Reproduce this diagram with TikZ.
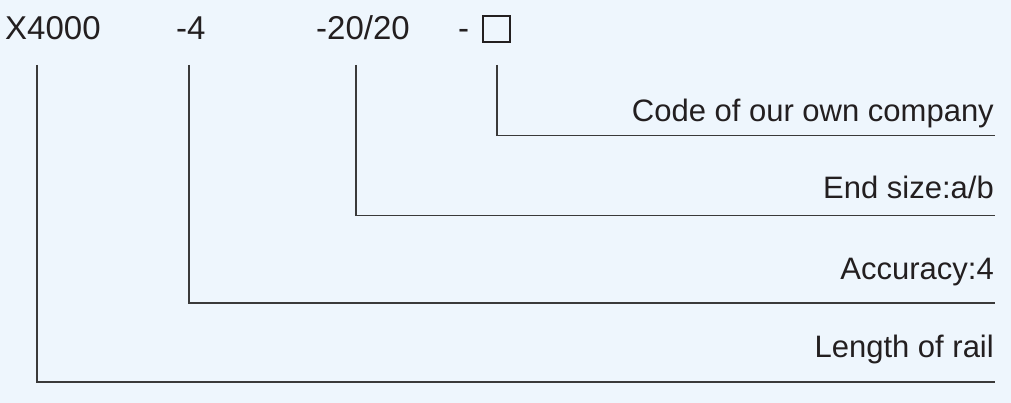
\documentclass[tikz,border=0pt]{standalone}
\usepackage{fontspec}
\setmainfont{Liberation Sans}
\definecolor{bg}{HTML}{EEF6FD}
\definecolor{ink}{HTML}{231F20}
\definecolor{rule}{HTML}{3A3A3A}
\begin{document}
\begin{tikzpicture}[x=1pt,y=-1pt,
  code/.style={anchor=base west,inner sep=0pt,text=ink,font=\fontsize{33}{40}\selectfont},
  label/.style={anchor=base east,inner sep=0pt,text=ink,font=\fontsize{31}{37}\selectfont},
  leader/.style={draw=rule,line width=1.2pt},
  codebox/.style={draw=ink,line width=2pt,minimum width=27pt,minimum height=26pt,inner sep=0pt}]
\fill[bg] (0,0) rectangle (1011,403);
\useasboundingbox (0,0) rectangle (1011,403);
% top code
\node[code] (c1) at (5,40) {X4000};
\node[code] (c2) at (176,40) {-4};
\node[code] (c3) at (316,40) {-20/20};
\node[code] (c4) at (458,40) {-};
\node[codebox] (box) at (496.5,29) {};
% labels
\node[label] (l4) at (994,122) {Code of our own company};
\node[label] (l3) at (994,199) {End size:a/b};
\node[label] (l2) at (994,279) {Accuracy:4};
\node[label] (l1) at (994,357) {Length of rail};
% leader start and end points
\coordinate (s1) at (37,65);
\coordinate (s2) at (189,65);
\coordinate (s3) at (356,65);
\coordinate (s4) at (497,65);
\coordinate (e1) at (995,382);
\coordinate (e2) at (995,303);
\coordinate (e3) at (995,215.5);
\coordinate (e4) at (995,135.5);
\draw[leader] (s1) |- (e1);
\draw[leader] (s2) |- (e2);
\draw[leader] (s3) |- (e3);
\draw[leader] (s4) |- (e4);
\end{tikzpicture}
\end{document}
